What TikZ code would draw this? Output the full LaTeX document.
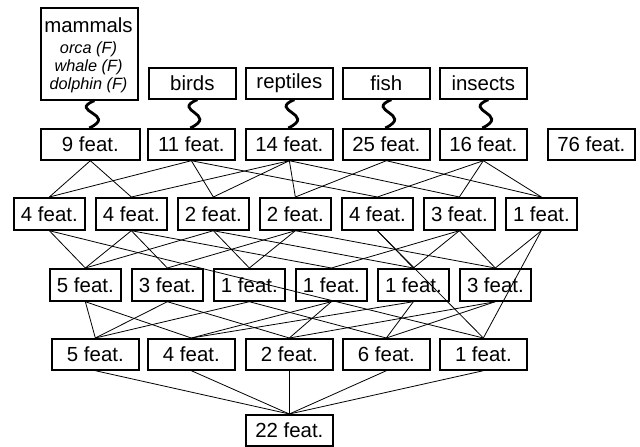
\documentclass[tikz,border=0pt]{standalone}
\usepackage{fontspec}
\setmainfont{Liberation Sans}
\begin{document}
\begin{tikzpicture}[x=1pt,y=-1pt,
  box/.style={draw,line width=1.7pt,inner sep=0pt,anchor=north west,
    font=\fontsize{20.4}{24}\selectfont},
  wA/.style={box,minimum width=99pt,minimum height=31pt},
  wB/.style={box,minimum width=87pt,minimum height=31pt},
  wC/.style={box,minimum width=71pt,minimum height=32pt},
  edge/.style={line width=0.8pt},
  squig/.style={line width=2.8pt}]
\useasboundingbox (0,0) rectangle (640,447);
% class boxes
\node[draw,line width=1.7pt,anchor=north west,minimum width=97pt,minimum height=92pt,inner sep=0pt] (mam) at (40,7) {};
\node[font=\fontsize{20.4}{24}\selectfont] (mamt) at (88.5,25) {mammals};
\node[font=\fontsize{16.3}{19}\selectfont\itshape,align=center] (mami) at (88.5,67) {orca (F)\\[-1pt]whale (F)\\[-1pt]dolphin (F)};
\node[wB] (bird) at (148,67) {birds};
\node[wB] (rept) at (245,67) {reptiles};
\node[wB] (fish) at (342,67) {fish};
\node[wB] (ins) at (439,67) {insects};
% first row
\node[wA] (k9) at (40,128) {9 feat.};
\node[wB] (k11) at (147,128) {11 feat.};
\node[wB] (k14) at (245,128) {14 feat.};
\node[wB] (k25) at (342,128) {25 feat.};
\node[wB] (k16) at (439,128) {16 feat.};
\node[wB] (k76) at (547,128) {76 feat.};
% second row
\node[wC] (a) at (13,197) {4 feat.};
\node[wC] (b) at (95,197) {4 feat.};
\node[wC] (c) at (177,197) {2 feat.};
\node[wC] (d) at (259,197) {2 feat.};
\node[wC] (e) at (341,197) {4 feat.};
\node[wC] (f) at (423,197) {3 feat.};
\node[wC] (g) at (505,197) {1 feat.};
% third row
\node[wC] (p) at (49,268) {5 feat.};
\node[wC] (q) at (131,268) {3 feat.};
\node[wC] (r) at (213,268) {1 feat.};
\node[wC] (s) at (295,268) {1 feat.};
\node[wC] (t) at (377,268) {1 feat.};
\node[wC] (u) at (459,268) {3 feat.};
% fourth row
\node[wB] (v) at (51,338) {5 feat.};
\node[wB] (w) at (147,338) {4 feat.};
\node[wB] (x) at (245,338) {2 feat.};
\node[wB] (y) at (342,338) {6 feat.};
\node[wB] (z) at (439,338) {1 feat.};
% bottom
\node[wB] (o) at (245,414) {22 feat.};
% wavy links from the classes
\foreach \top/\bot in {mam/k9,bird/k11,rept/k14,fish/k25,ins/k16}
  \draw[squig] ([xshift=5pt]\top.south) .. controls +(-27,11) and +(29,-14) .. ([xshift=-1pt]\bot.north);
% first row to second row
\foreach \hi/\lo in {k9/a,k9/b,k11/a,k11/c,k11/e,k14/b,k14/c,k14/d,k14/f,k25/d,k25/g,k16/e,k16/f,k16/g}
  \draw[edge] (\hi.south) -- (\lo.north);
% second row to third row (and straight to the fourth)
\foreach \hi/\lo in {a/p,b/p,b/q,b/s,c/p,c/r,c/t,d/q,d/r,d/u,e/t,f/s,f/t,f/u,g/u,a/z,e/z,g/z}
  \draw[edge] (\hi.south) -- (\lo.north);
% third row to fourth row
\foreach \hi/\lo in {p/v,p/w,q/v,q/x,r/v,r/y,s/w,s/x,t/w,t/y,u/x,u/y}
  \draw[edge] (\hi.south) -- (\lo.north);
% fourth row to the bottom
\foreach \hi in {v,w,x,y,z}
  \draw[edge] (\hi.south) -- (o.north);
\end{tikzpicture}
\end{document}
